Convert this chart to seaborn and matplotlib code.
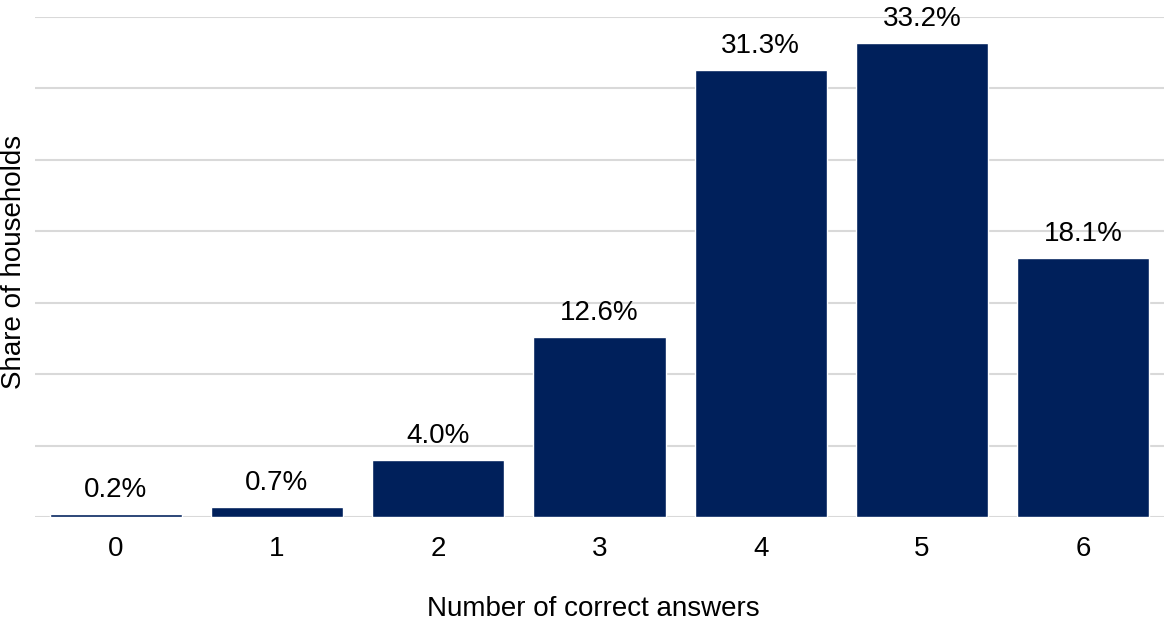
import matplotlib
matplotlib.use("Agg")
import matplotlib.pyplot as plt
import seaborn as sns
import pandas as pd

# Share of households by number of correct answers (%)
answers = ["0", "1", "2", "3", "4", "5", "6"]
shares = [0.2, 0.7, 4.0, 12.6, 31.3, 33.2, 18.1]

df = pd.DataFrame({"answers": answers, "share": shares})

sns.set_theme(style="white")
plt.rcParams["font.family"] = ["Liberation Sans", "DejaVu Sans"]

FS = 20

fig = plt.figure(figsize=(11.64, 6.23), dpi=100)
ax = fig.add_axes([35 / 1164, 1 - 517 / 623, 1 - 35 / 1164, (517 - 17) / 623])

sns.barplot(data=df, x="answers", y="share", color="#00205B", saturation=1,
            width=0.82, ax=ax, zorder=3)

ax.set_ylim(0, 35)
ax.set_yticks(range(0, 36, 5))
ax.set_yticklabels([])
ax.yaxis.grid(True, color="#d9d9d9", linewidth=1.5, zorder=0)
ax.set_axisbelow(True)
for s in ax.spines.values():
    s.set_visible(False)
ax.tick_params(axis="both", length=0, labelsize=FS, colors="black")
ax.tick_params(axis="x", pad=14)

for c in ax.containers:
    ax.bar_label(c, labels=[f"{v:.1f}%" for v in shares], padding=8,
                 fontsize=FS, color="black", clip_on=False)

ax.set_xlabel("Number of correct answers", fontsize=FS, labelpad=24, color="black")
ax.xaxis.label.set_x((593 - 35) / 1129)
ax.set_ylabel("")
fig.text(14 / 1164, 1 - 262 / 623, "Share of households", rotation=90,
         ha="center", va="center", fontsize=FS, color="black")

fig.savefig("out.png", dpi=100, facecolor="white")
